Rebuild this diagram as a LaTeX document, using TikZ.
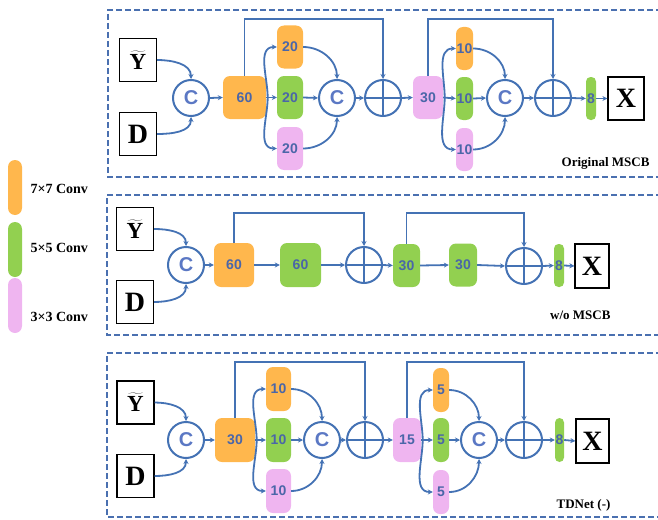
\documentclass[tikz,border=0pt]{standalone}
\usepackage{fontspec}
\setmainfont{Liberation Serif}
\newfontfamily\numf{Liberation Sans}
\usetikzlibrary{arrows.meta,calc}
\definecolor{corange}{HTML}{FFB74D}
\definecolor{cgreen}{HTML}{92D050}
\definecolor{cpink}{HTML}{EFB5F0}
\definecolor{lblue}{HTML}{4472B4}
\definecolor{tblue}{HTML}{4A66A8}
\definecolor{cblue}{HTML}{5B78C4}
\definecolor{dblue}{HTML}{4A70B0}
\newcommand{\yt}{{\fontsize{23}{23}\selectfont$\widetilde{\mbox{\bfseries Y}}$}}
\begin{document}
\begin{tikzpicture}[x=1pt,y=-1pt,
  conv/.style={rectangle, rounded corners=7pt, inner sep=0pt, minimum height=43pt,
    font=\numf\bfseries\fontsize{14}{14}\selectfont, text=tblue},
  thin/.style={rounded corners=4.5pt},
  ob/.style={conv, fill=corange},
  gb/.style={conv, fill=cgreen},
  pb/.style={conv, fill=cpink},
  cat/.style={circle, draw=lblue, line width=2pt, minimum size=36pt, inner sep=0pt,
    font=\numf\bfseries\fontsize{20}{20}\selectfont, text=cblue},
  plus/.style={circle, draw=lblue, line width=2pt, minimum size=36pt, inner sep=0pt,
    path picture={\draw[lblue,line width=2pt] (path picture bounding box.north) -- (path picture bounding box.south)
      (path picture bounding box.west) -- (path picture bounding box.east);}},
  io/.style={rectangle, draw=black, line width=1.2pt, minimum width=37pt, minimum height=43pt, inner sep=0pt,
    font=\bfseries\fontsize{28}{28}\selectfont},
  arr/.style={draw=lblue, line width=1.8pt, -{Stealth[length=5pt,width=5pt]}},
  panel/.style={draw=dblue, line width=1.5pt, dash pattern=on 6pt off 3pt},
  lab/.style={anchor=east, font=\bfseries\fontsize{13}{13}\selectfont},
  leg/.style={rectangle, rounded corners=7pt, minimum width=14pt, minimum height=55pt, inner sep=0pt},
  legt/.style={anchor=west, font=\bfseries\fontsize{14}{14}\selectfont}
]
\useasboundingbox (0,0) rectangle (658,519);

% legend
\node[leg, fill=corange] (lo) at (15,187.5) {};
\node[leg, fill=cgreen] (lg) at (15,249.5) {};
\node[leg, fill=cpink] (lp) at (15,305.5) {};
\node[legt] (lot) at (27,189) {7×7 Conv};
\node[legt] (lgt) at (27,248) {5×5 Conv};
\node[legt] (lpt) at (27,317) {3×3 Conv};

% panels
\draw[panel] (662,10) -- (108,10) -- (108,177) -- (662,177);
\draw[panel] (662,195) -- (107,195) -- (107,335) -- (662,335);
\draw[panel] (662,353) -- (107,353) -- (107,517) -- (662,517);

% ---------------- Panel 1 ----------------
\node[io] (Y1) at (138,60) {\yt};
\node[io] (D1) at (138,134) {D};
\node[cat] (C1a) at (191,98) {C};
\node[ob, minimum width=43pt] (b60) at (244.5,97.5) {60};
\node[ob, minimum width=26pt] (o20) at (290,47) {20};
\node[gb, minimum width=26pt] (g20) at (290,97.5) {20};
\node[pb, minimum width=26pt] (p20) at (290,148.5) {20};
\node[cat] (C1b) at (337,98) {C};
\node[plus] (P1a) at (383,98) {};
\node[pb, minimum width=30pt] (p30) at (428,97.5) {30};
\node[ob, minimum width=17pt] (o10) at (464.5,48.5) {10};
\node[gb, minimum width=17pt] (g10) at (464.5,98.5) {10};
\node[pb, minimum width=17pt] (p10) at (464.5,149.5) {10};
\node[cat] (C1c) at (505,98) {C};
\node[plus] (P1b) at (553,98) {};
\node[gb, thin, minimum width=10pt] (g8a) at (591,98.5) {8};
\node[io, minimum width=36pt] (X1) at (626,98.5) {X};
\node[lab] (L1) at (653,163) {Original MSCB};
\coordinate (s1a) at (300,19);
\coordinate (s1b) at (500,19);

\draw[arr] (Y1.east) to[out=0,in=90] (C1a.north);
\draw[arr] (D1.east) to[out=0,in=-90] (C1a.south);
\draw[arr] (C1a.east) -- (b60.west);
\draw[arr] (b60.east) -- (g20.west);
\draw[arr] ([xshift=1.5pt]b60.east) to[out=90,in=180] (o20.west);
\draw[arr] ([xshift=1.5pt]b60.east) to[out=-90,in=180] (p20.west);
\draw[arr] (o20.east) to[out=0,in=90] (C1b.north);
\draw[arr] (p20.east) to[out=0,in=-90] (C1b.south);
\draw[arr] (g20.east) -- (C1b.west);
\draw[arr] (C1b.east) -- (P1a.west);
\draw[arr] (b60.north) |- (s1a) -| (P1a.north);
\draw[arr] (P1a.east) -- (p30.west);
\draw[arr] (p30.east) -- (g10.west);
\draw[arr] ([xshift=1.5pt]p30.east) to[out=90,in=180] (o10.west);
\draw[arr] ([xshift=1.5pt]p30.east) to[out=-90,in=180] (p10.west);
\draw[arr] (o10.east) to[out=0,in=90] (C1c.north);
\draw[arr] (p10.east) to[out=0,in=-90] (C1c.south);
\draw[arr] (g10.east) -- (C1c.west);
\draw[arr] (C1c.east) -- (P1b.west);
\draw[arr] (p30.north) |- (s1b) -| (P1b.north);
\draw[arr] (P1b.east) -- (g8a.west);
\draw[arr] (g8a.east) -- (X1.west);

% ---------------- Panel 2 ----------------
\node[io] (Y2) at (135,229) {\yt};
\node[io] (D2) at (135,302) {D};
\node[cat] (C2a) at (186,265) {C};
\node[ob, minimum width=40pt, minimum height=44pt] (o60) at (234,265) {60};
\node[gb, minimum width=41pt, minimum height=44pt] (g60) at (300.5,265) {60};
\node[plus] (P2a) at (364,265) {};
\node[gb, minimum width=27pt] (g30a) at (406.5,265.5) {30};
\node[gb, minimum width=28pt] (g30b) at (463,265) {30};
\node[plus] (P2b) at (524,266) {};
\node[gb, thin, minimum width=10pt] (g8b) at (559,265.5) {8};
\node[io, minimum width=34pt, minimum height=44pt] (X2) at (592,266) {X};
\node[lab] (L2) at (614,315) {w/o MSCB};
\coordinate (s2a) at (300,213);
\coordinate (s2b) at (470,213);

\draw[arr] (Y2.east) to[out=0,in=90] (C2a.north);
\draw[arr] (D2.east) to[out=0,in=-90] (C2a.south);
\draw[arr] (C2a.east) -- (o60.west);
\draw[arr] (o60.east) -- (g60.west);
\draw[arr] (g60.east) -- (P2a.west);
\draw[arr] (o60.north) |- (s2a) -| (P2a.north);
\draw[arr] (P2a.east) -- (g30a.west);
\draw[arr] (g30a.east) -- (g30b.west);
\draw[arr] (g30b.east) -- (P2b.west);
\draw[arr] (g30a.north) |- (s2b) -| (P2b.north);
\draw[arr] (P2b.east) -- (g8b.west);
\draw[arr] (g8b.east) -- (X2.west);

% ---------------- Panel 3 ----------------
\node[io] (Y3) at (135.5,402.5) {\yt};
\node[io] (D3) at (135.5,476) {D};
\node[cat] (C3a) at (186,440) {C};
\node[ob, minimum width=40pt, minimum height=44pt] (o30) at (235,440) {30};
\node[ob, minimum width=25pt, minimum height=44pt] (o10c) at (278.5,389) {10};
\node[gb, minimum width=25pt, minimum height=44pt] (g10c) at (278.5,440) {10};
\node[pb, minimum width=25pt, minimum height=44pt] (p10c) at (278.5,491) {10};
\node[cat] (C3b) at (322,440) {C};
\node[plus] (P3a) at (365,440) {};
\node[pb, minimum width=28pt, minimum height=44pt] (p15) at (407,440) {15};
\node[ob, minimum width=16pt, minimum height=44pt] (o5) at (441,390) {5};
\node[gb, minimum width=16pt, minimum height=44pt] (g5) at (441,440) {5};
\node[pb, minimum width=16pt, minimum height=44pt] (p5) at (441,492) {5};
\node[cat] (C3c) at (479,440) {C};
\node[plus] (P3b) at (524,440) {};
\node[gb, thin, minimum width=9pt, minimum height=44pt] (g8c) at (559.5,440) {8};
\node[io, minimum width=33pt, minimum height=44pt] (X3) at (592.5,441) {X};
\node[lab] (L3) at (614,505) {TDNet (-)};
\coordinate (s3a) at (300,362);
\coordinate (s3b) at (470,362);

\draw[arr] (Y3.east) to[out=0,in=90] (C3a.north);
\draw[arr] (D3.east) to[out=0,in=-90] (C3a.south);
\draw[arr] (C3a.east) -- (o30.west);
\draw[arr] (o30.east) -- (g10c.west);
\draw[arr] ([xshift=1.5pt]o30.east) to[out=90,in=180] (o10c.west);
\draw[arr] ([xshift=1.5pt]o30.east) to[out=-90,in=180] (p10c.west);
\draw[arr] (o10c.east) to[out=0,in=90] (C3b.north);
\draw[arr] (p10c.east) to[out=0,in=-90] (C3b.south);
\draw[arr] (g10c.east) -- (C3b.west);
\draw[arr] (C3b.east) -- (P3a.west);
\draw[arr] (o30.north) |- (s3a) -| (P3a.north);
\draw[arr] (P3a.east) -- (p15.west);
\draw[arr] (p15.east) -- (g5.west);
\draw[arr] ([xshift=1.5pt]p15.east) to[out=90,in=180] (o5.west);
\draw[arr] ([xshift=1.5pt]p15.east) to[out=-90,in=180] (p5.west);
\draw[arr] (o5.east) to[out=0,in=90] (C3c.north);
\draw[arr] (p5.east) to[out=0,in=-90] (C3c.south);
\draw[arr] (g5.east) -- (C3c.west);
\draw[arr] (C3c.east) -- (P3b.west);
\draw[arr] (p15.north) |- (s3b) -| (P3b.north);
\draw[arr] (P3b.east) -- (g8c.west);
\draw[arr] (g8c.east) -- (X3.west);
\end{tikzpicture}
\end{document}
